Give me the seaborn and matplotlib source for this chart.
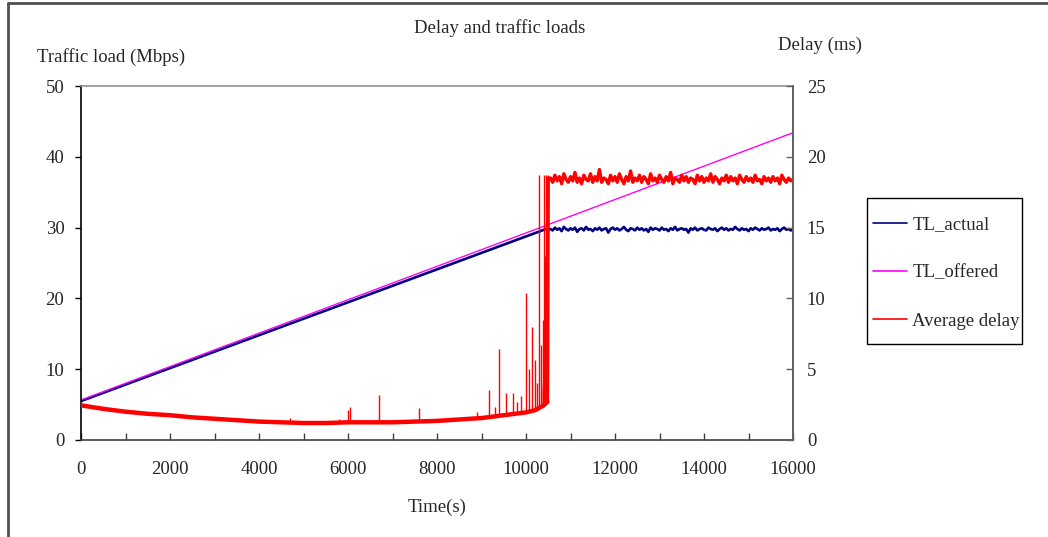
import numpy as np
import matplotlib
matplotlib.use("Agg")
import matplotlib.pyplot as plt
from matplotlib.lines import Line2D
from matplotlib.patches import Rectangle
import seaborn as sns

# ---------------- data ----------------
offered_t = [0, 16000]
offered_mbps = [5.65, 43.4]

actual_ramp_t = [0, 10450]
actual_ramp_mbps = [5.5, 29.8]

flat_t = np.arange(10550, 16001, 50)
actual_flat_mbps = [
    29.8, 29.6, 30.0, 29.7, 29.9, 29.5, 30.1, 29.8, 29.6, 29.9,
    29.7, 30.0, 29.4, 29.8, 29.9, 29.6, 30.1, 29.7, 29.8, 29.5,
    29.9, 29.7, 30.0, 29.6, 29.8, 29.9, 29.3, 29.8, 30.0, 29.7,
    29.9, 29.6, 29.8, 30.1, 29.7, 29.5, 29.9, 29.8, 29.6, 30.0,
    29.7, 29.9, 29.6, 29.8, 29.4, 30.0, 29.7, 29.9, 29.8, 29.6,
    30.0, 29.7, 29.8, 29.5, 29.9, 29.7, 30.1, 29.6, 29.8, 29.9,
    29.7, 29.8, 29.3, 29.9, 29.7, 30.0, 29.6, 29.8, 29.9, 29.7,
    29.6, 30.0, 29.8, 29.7, 29.9, 29.5, 29.8, 30.0, 29.7, 29.9,
    29.6, 29.8, 29.7, 30.1, 29.8, 29.6, 29.9, 29.7, 29.8, 29.5,
    29.9, 29.7, 30.0, 29.8, 29.6, 29.9, 29.7, 29.8, 30.0, 29.6,
    29.8, 29.7, 29.9, 29.5, 29.8, 30.0, 29.7, 29.8, 29.6, 29.7,
]

delay_base_t = [0, 500, 1000, 1500, 2000, 2500, 3000, 3500, 4000, 4500, 5000,
                5500, 6000, 6500, 7000, 7500, 8000, 8500, 9000, 9500, 10000,
                10200, 10400, 10450, 10480, 10500]
delay_base_ms = [2.45, 2.2, 2.0, 1.85, 1.75, 1.6, 1.5, 1.4, 1.3, 1.25, 1.2,
                 1.2, 1.25, 1.25, 1.25, 1.3, 1.35, 1.45, 1.55, 1.75, 1.95,
                 2.1, 2.45, 2.6, 2.7, 18.5]
delay_flat_ms = [
    18.5, 18.2, 18.7, 18.3, 18.6, 18.1, 18.8, 18.4, 18.2, 18.6,
    18.3, 18.9, 18.2, 18.5, 18.1, 18.7, 18.4, 18.3, 18.8, 18.2,
    18.6, 18.3, 19.1, 18.2, 18.5, 18.4, 18.1, 18.7, 18.3, 18.6,
    18.2, 18.8, 18.4, 18.1, 18.6, 18.3, 19.0, 18.2, 18.5, 18.3,
    18.7, 18.2, 18.6, 18.4, 18.1, 18.8, 18.3, 18.5, 18.2, 18.7,
    18.4, 18.2, 18.6, 18.3, 18.9, 18.1, 18.5, 18.4, 18.2, 18.7,
    18.3, 18.6, 18.2, 18.5, 18.4, 18.1, 18.7, 18.3, 18.6, 18.2,
    18.5, 18.3, 18.8, 18.2, 18.6, 18.4, 18.1, 18.5, 18.3, 18.7,
    18.2, 18.6, 18.3, 18.5, 18.1, 18.7, 18.4, 18.2, 18.6, 18.3,
    18.5, 18.2, 18.7, 18.3, 18.4, 18.1, 18.6, 18.3, 18.5, 18.2,
    18.6, 18.3, 18.5, 18.1, 18.7, 18.4, 18.2, 18.5, 18.3, 18.4,
]

spike_t = [4700, 5800, 6000, 6050, 6700, 7600, 8900, 9170, 9300, 9390, 9540,
           9710, 9800, 9880, 10000, 10060, 10130, 10200, 10250, 10290, 10340,
           10380, 10400, 10420, 10440, 10460, 10470, 10490]
spike_base_ms = [1.23, 1.2, 1.25, 1.25, 1.25, 1.3, 1.55, 1.62, 1.68, 1.7, 1.76,
                 1.84, 1.87, 1.9, 1.95, 2.0, 2.05, 2.1, 2.2, 2.25, 2.35,
                 2.4, 2.45, 2.5, 2.55, 2.6, 2.6, 2.7]
spike_peak_ms = [1.55, 1.5, 2.1, 2.35, 3.15, 2.25, 2.0, 3.5, 2.3, 6.4, 3.3,
                 3.3, 2.7, 3.1, 10.4, 5.0, 8.0, 5.65, 4.0, 18.7, 6.7,
                 8.5, 18.7, 13.0, 9.0, 18.7, 12.5, 18.7]

burst_t = [10360, 10400, 10440, 10470, 10500]
burst_lo_ms = [2.4, 2.45, 2.55, 2.6, 2.7]
burst_hi_ms = [3.5, 5.8, 6.5, 13.0, 13.0]

x_ticks = [0, 2000, 4000, 6000, 8000, 10000, 12000, 14000, 16000]
left_ticks = [0, 10, 20, 30, 40, 50]
right_ticks = [0, 5, 10, 15, 20, 25]

NAVY = "#000080"
MAGENTA = "#FF00FF"
RED = "#FF0000"

# ---------------- style ----------------
sns.set_theme(style="white")
plt.rcParams["font.family"] = ["Liberation Serif", "DejaVu Serif"]
FS = 13.5

fig = plt.figure(figsize=(10.48, 5.37), dpi=100)
ax = fig.add_axes([81 / 1048, 97 / 537, 712 / 1048, 354 / 537])
ax2 = ax.twinx()

actual_t = list(actual_ramp_t) + list(flat_t)
actual_mbps = list(actual_ramp_mbps) + list(actual_flat_mbps)
sns.lineplot(x=actual_t, y=actual_mbps, ax=ax, color=NAVY, lw=1.9, sort=False,
             estimator=None)
sns.lineplot(x=offered_t, y=offered_mbps, ax=ax, color=MAGENTA, lw=1.0,
             sort=False, estimator=None)

n_base = len(delay_base_t)
delay_t = list(delay_base_t) + list(flat_t)
delay_ms = list(delay_base_ms) + list(delay_flat_ms)
# thick low-delay band
sns.lineplot(x=delay_base_t[:-1], y=delay_base_ms[:-1], ax=ax2, color=RED,
             lw=3.2, sort=False, estimator=None)
sns.lineplot(x=delay_t[n_base - 2:], y=delay_ms[n_base - 2:],
             ax=ax2, color=RED, lw=2.4, sort=False, estimator=None)
ax2.vlines(spike_t, spike_base_ms, spike_peak_ms, color=RED, lw=1.0)
ax2.fill_between(burst_t, burst_lo_ms, burst_hi_ms, color=RED, lw=0)

for a in (ax, ax2):
    a.set_xlim(0, 16000)
    a.set_xlabel("")
    a.set_ylabel("")
    a.grid(False)
    a.set_facecolor("none")
ax.set_ylim(0, 50)
ax2.set_ylim(0, 25)

ax.set_xticks(x_ticks)
ax.set_xticklabels([str(v) for v in x_ticks], fontsize=FS)
ax.set_xticks(np.arange(1000, 16000, 2000), minor=True)
ax.tick_params(axis="x", which="both", direction="in", length=5, width=1,
               color="#404040", pad=15, top=False, bottom=True)
ax.set_yticks(left_ticks)
ax.set_yticklabels([str(v) for v in left_ticks], fontsize=FS)
ax.tick_params(axis="y", which="major", direction="out", length=4, width=1,
               color="#000000", pad=8, left=True)
ax2.set_yticks(right_ticks)
ax2.set_yticklabels([str(v) for v in right_ticks], fontsize=FS)
ax2.tick_params(axis="y", which="major", direction="in", length=5, width=1,
                color="#606060", pad=10, right=True)

ax.spines["left"].set_color("#000000")
ax.spines["bottom"].set_color("#404040")
ax.spines["top"].set_color("#909090")
ax.spines["right"].set_color("#606060")
for s in ax2.spines.values():
    s.set_visible(False)
ax2.spines["right"].set_visible(True)
ax2.spines["right"].set_color("#606060")
for s in list(ax.spines.values()) + [ax2.spines["right"]]:
    s.set_linewidth(1.2)

fig.text(500 / 1048, 1 - 28 / 537, "Delay and traffic loads", fontsize=FS,
         ha="center", va="center")
fig.text(111 / 1048, 1 - 57 / 537, "Traffic load (Mbps)", fontsize=FS,
         ha="center", va="center")
fig.text(820 / 1048, 1 - 45 / 537, "Delay (ms)", fontsize=FS,
         ha="center", va="center")
fig.text(437 / 1048, 1 - 507 / 537, "Time(s)", fontsize=FS,
         ha="center", va="center")

# legend box
fig.add_artist(Rectangle((867 / 1048, 1 - 344 / 537), 155 / 1048, 146 / 537,
                         transform=fig.transFigure, facecolor="white",
                         edgecolor="black", lw=1.0, zorder=5))
handles = [Line2D([], [], color=NAVY, lw=1.2),
           Line2D([], [], color=MAGENTA, lw=1.2),
           Line2D([], [], color=RED, lw=1.2)]
labels = ["TL_actual", "TL_offered", "Average delay"]
leg = fig.legend(handles, labels, loc="upper left",
                 bbox_to_anchor=(873 / 1048, 1 - 216 / 537), fontsize=FS,
                 frameon=False, borderpad=0, labelspacing=1.67,
                 handlelength=1.8, handletextpad=0.3, borderaxespad=0)
leg.set_zorder(6)

# outer frame of the chart area
fig.add_artist(Line2D([8 / 1048, 8 / 1048], [0, 1 - 3 / 537], color="#505050",
                      lw=2, transform=fig.transFigure))
fig.add_artist(Line2D([8 / 1048, 1], [1 - 3 / 537, 1 - 3 / 537], color="#505050",
                      lw=2, transform=fig.transFigure))

fig.savefig("out.png", dpi=100, facecolor="white")
